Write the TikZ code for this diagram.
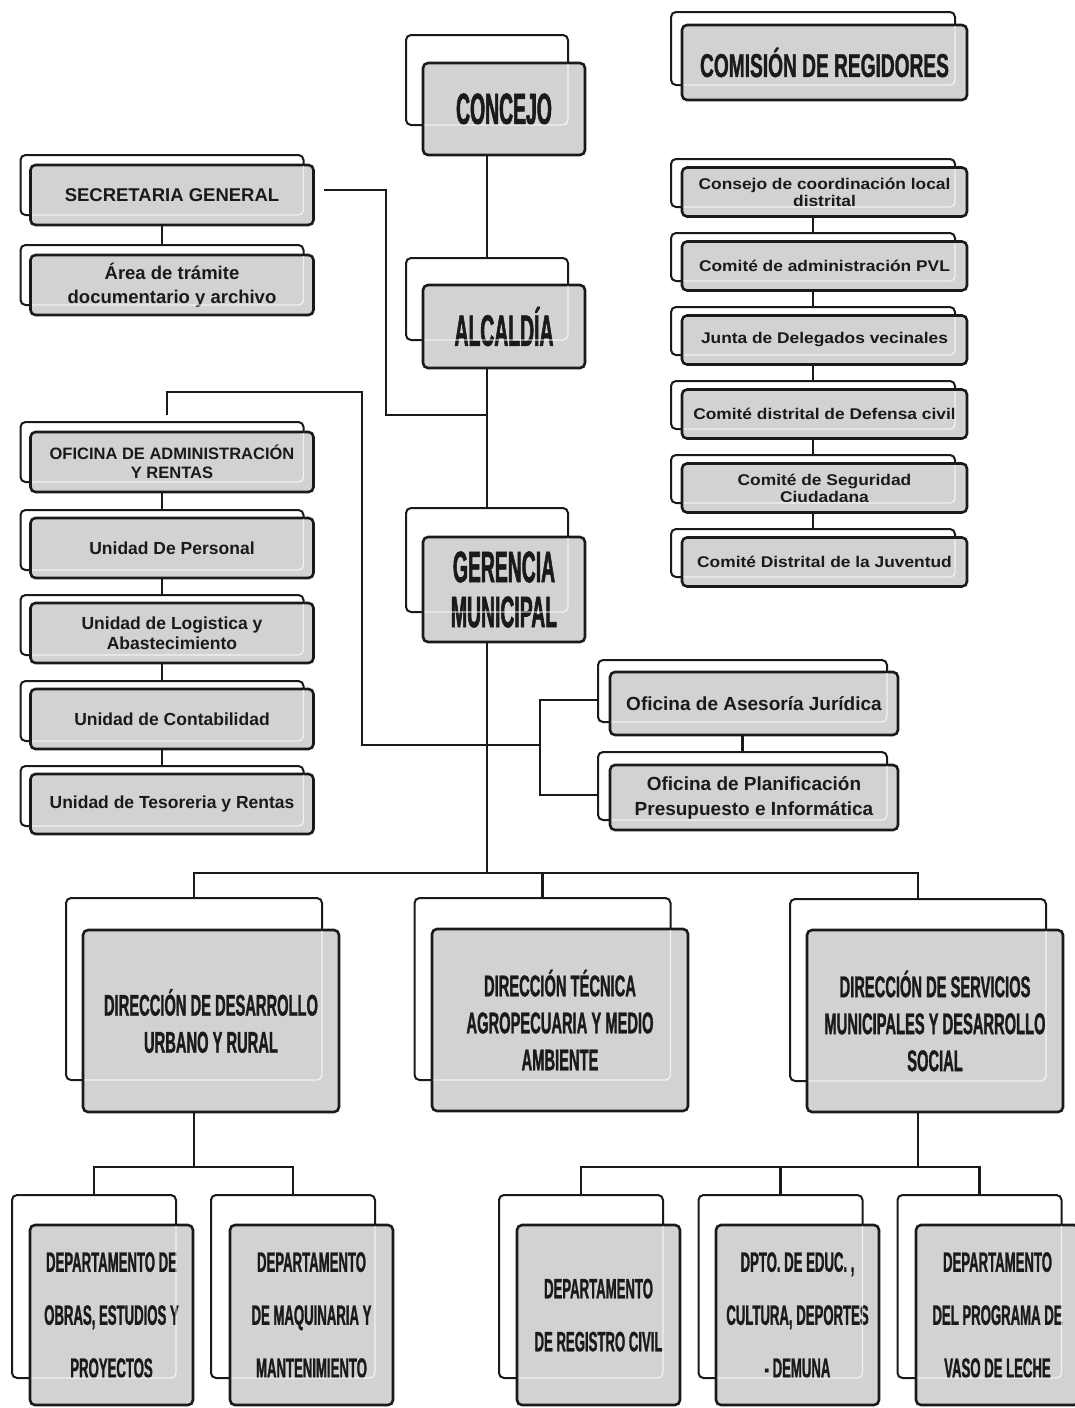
\documentclass[tikz,border=0pt]{standalone}
\usepackage{fontspec}
\setmainfont{Liberation Sans}
\newfontfamily\bigf{Liberation Sans Bold}[FakeStretch=0.44,FakeBold=1.2]
\newfontfamily\comf{Liberation Sans Bold}[FakeStretch=0.58,FakeBold=1]
\newfontfamily\dirf{Liberation Sans Bold}[FakeStretch=0.49,FakeBold=1]
\newfontfamily\depf{Liberation Sans Bold}[FakeStretch=0.47,FakeBold=1]
\newfontfamily\lf{Liberation Sans Bold}
\newfontfamily\rf{Liberation Sans Bold}[FakeStretch=1.12]
\definecolor{boxgray}{HTML}{D2D2D2}
\definecolor{ink}{HTML}{1A1A1A}
\begin{document}
\begin{tikzpicture}[x=1pt,y=-1pt,
  back/.style={rectangle,draw=ink,line width=2pt,fill=white,rounded corners=5pt,inner sep=0pt},
  front/.style={rectangle,draw=ink,line width=2.6pt,fill=boxgray,rounded corners=5pt,inner sep=0pt,align=center,text=ink},
  ghost/.style={draw=white,draw opacity=0.7,line width=1.4pt,rounded corners=5pt},
  conn/.style={draw=ink,line width=2.2pt},
  bigt/.style={font=\bigf\fontsize{44}{45}\selectfont},
  comt/.style={font=\comf\fontsize{33}{36}\selectfont},
  dirt/.style={font=\dirf\fontsize{30}{37}\selectfont},
  dept/.style={font=\depf\fontsize{28}{53}\selectfont},
  lback/.style={back,minimum width=283,minimum height=60},
  lfront/.style={front,minimum width=283,minimum height=60,font=\lf\fontsize{17.5}{24}\selectfont},
  rback/.style={back,minimum width=284,minimum height=48},
  rfront/.style={front,minimum width=285,minimum height=49,font=\rf\fontsize{15.5}{17}\selectfont},
  dback/.style={back,minimum width=256,minimum height=182},
  dfront/.style={front,minimum width=256,minimum height=182,dirt},
  bback/.style={back,minimum width=164,minimum height=183},
  bfront/.style={front,minimum width=163,minimum height=180,dept,text depth=0pt}]
\useasboundingbox (0,0) rectangle (1075,1408);

% ---------- back boxes ----------
\node[back,minimum width=162,minimum height=90] (concejo-b) at (487,80) {};
\node[back,minimum width=284,minimum height=73] (comision-b) at (813,48.5) {};
\node[lback] (secg-b) at (162,185) {};
\node[lback] (area-b) at (162,275) {};
\node[back,minimum width=162,minimum height=82] (alc-b) at (487,299) {};
\node[lback] (oadm-b) at (162,452) {};
\node[lback] (uper-b) at (162,540) {};
\node[lback] (ulog-b) at (162,625) {};
\node[lback] (ucon-b) at (162,711) {};
\node[lback] (utes-b) at (162,796) {};
\node[back,minimum width=162,minimum height=104] (ger-b) at (487,560) {};
\node[rback] (r1-b) at (813,183) {};
\node[rback] (r2-b) at (813,257) {};
\node[rback] (r3-b) at (813,331) {};
\node[rback] (r4-b) at (813,405) {};
\node[rback] (r5-b) at (813,479) {};
\node[rback] (r6-b) at (813,553) {};
\node[back,minimum width=289,minimum height=62] (jur-b) at (742.5,691) {};
\node[back,minimum width=289,minimum height=68] (plan-b) at (742.5,786) {};
\node[dback] (d1-b) at (194,989) {};
\node[dback] (d2-b) at (542.5,989) {};
\node[dback] (d3-b) at (918,990) {};
\node[bback] (b1-b) at (94,1286.5) {};
\node[bback] (b2-b) at (293,1286.5) {};
\node[bback] (b3-b) at (581,1286.5) {};
\node[bback] (b4-b) at (780.5,1286.5) {};
\node[bback] (b5-b) at (979.5,1286.5) {};

% ---------- front boxes ----------
\node[front,minimum width=162,minimum height=92,bigt] (concejo) at (504,109) {CONCEJO};
\node[front,minimum width=285,minimum height=75,comt] (comision) at (824.5,62.5) {COMISIÓN DE REGIDORES};
\node[lfront,font=\lf\fontsize{18.5}{24}\selectfont] (secg) at (172,195) {SECRETARIA GENERAL};
\node[lfront,font=\lf\fontsize{18.5}{24}\selectfont] (area) at (172,285) {Área de trámite\\documentario y archivo};
\node[front,minimum width=162,minimum height=83,bigt] (alc) at (504,326.5) {ALCALDÍA};
\node[lfront,font=\lf\fontsize{16.5}{19}\selectfont] (oadm) at (172,462) {OFICINA DE ADMINISTRACIÓN\\Y RENTAS};
\node[lfront] (uper) at (172,548) {Unidad De Personal};
\node[lfront,font=\lf\fontsize{17.5}{20}\selectfont] (ulog) at (172,633) {Unidad de Logistica y\\Abastecimiento};
\node[lfront] (ucon) at (172,719) {Unidad de Contabilidad};
\node[lfront] (utes) at (172,804) {Unidad de Tesoreria y Rentas};
\node[front,minimum width=162,minimum height=105,bigt] (ger) at (504,589.5) {GERENCIA\\MUNICIPAL};
\node[rfront] (r1) at (824.5,192) {Consejo de coordinación local\\distrital};
\node[rfront] (r2) at (824.5,266) {Comité de administración PVL};
\node[rfront] (r3) at (824.5,340) {Junta de Delegados vecinales};
\node[rfront] (r4) at (824.5,414) {Comité distrital de Defensa civil};
\node[rfront] (r5) at (824.5,488) {Comité de Seguridad\\Ciudadana};
\node[rfront] (r6) at (824.5,562) {Comité Distrital de la Juventud};
\node[front,minimum width=288,minimum height=63,font=\lf\fontsize{19}{25}\selectfont] (jur) at (754,703.5) {Oficina de Asesoría Jurídica};
\node[front,minimum width=288,minimum height=65,font=\lf\fontsize{19}{25}\selectfont] (plan) at (754,797.5) {Oficina de Planificación\\Presupuesto e Informática};
\node[dfront] (d1) at (211,1021) {DIRECCIÓN DE DESARROLLO\\URBANO Y RURAL};
\node[dfront] (d2) at (560,1020) {DIRECCIÓN TÉCNICA\\AGROPECUARIA Y MEDIO\\AMBIENTE};
\node[dfront] (d3) at (935,1021) {DIRECCIÓN DE SERVICIOS\\MUNICIPALES Y DESARROLLO\\SOCIAL};
\node[bfront] (b1) at (111.5,1315) {DEPARTAMENTO DE\\OBRAS, ESTUDIOS Y\\PROYECTOS};
\node[bfront] (b2) at (311.5,1315) {DEPARTAMENTO\\DE MAQUINARIA Y\\MANTENIMIENTO};
\node[bfront] (b3) at (598.5,1315) {DEPARTAMENTO\\DE REGISTRO CIVIL};
\node[bfront] (b4) at (797.5,1315) {DPTO. DE EDUC. ,\\CULTURA, DEPORTES\\- DEMUNA};
\node[bfront] (b5) at (997.5,1315) {DEPARTAMENTO\\DEL PROGRAMA DE\\VASO DE LECHE};

% ---------- glass highlights (back box seen through front box) ----------
\foreach \n in {concejo,comision,secg,area,alc,oadm,uper,ulog,ucon,utes,ger,r1,r2,r3,r4,r5,r6,jur,plan,d1,d2,d3,b1,b2,b3,b4,b5}{
  \begin{scope}
    \clip ([shift={(3,-3)}]\n.south west) rectangle ([shift={(-3,3)}]\n.north east);
    \draw[ghost] ([shift={(1,-1)}]\n-b.south west) rectangle ([shift={(-1,1)}]\n-b.north east);
  \end{scope}
}

% ---------- connectors ----------
\coordinate (j1) at (487,415);
\coordinate (s1) at (386,415);
\coordinate (busc) at (487,873);
\coordinate (a0) at (167,415);
\coordinate (a1) at (362,392);
\coordinate (k) at (540,745);
\coordinate (l1) at (194,1167);
\coordinate (l3) at (918,1167);

\draw[conn] (concejo-b |- concejo.south) -- (alc-b.north);
\draw[conn] (alc-b |- alc.south) -- (ger-b.north);
\draw[conn] (ger-b |- ger.south) -- (busc);
\draw[conn] ([xshift=9pt,yshift=5pt]secg.east) -| (s1) -- (j1);
\draw[conn] (a0) |- (a1) |- (k);
\draw[conn] ([yshift=-9pt]jur-b.west) -| (k) |- ([yshift=-9pt]plan-b.west);
\draw[conn] (jur-b |- jur.south) -- (plan-b.north);

\draw[conn] (secg-b |- secg.south) -- (area-b.north);
\draw[conn] (oadm-b |- oadm.south) -- (uper-b.north);
\draw[conn] (uper-b |- uper.south) -- (ulog-b.north);
\draw[conn] (ulog-b |- ulog.south) -- (ucon-b.north);
\draw[conn] (ucon-b |- ucon.south) -- (utes-b.north);

\draw[conn] (r1-b |- r1.south) -- (r2-b.north);
\draw[conn] (r2-b |- r2.south) -- (r3-b.north);
\draw[conn] (r3-b |- r3.south) -- (r4-b.north);
\draw[conn] (r4-b |- r4.south) -- (r5-b.north);
\draw[conn] (r5-b |- r5.south) -- (r6-b.north);

\draw[conn] (d1-b.north) |- (busc) -| (d3-b.north);
\draw[conn] (d2-b.north) -- (d2-b.north |- busc);

\draw[conn] (d1-b |- d1.south) -- (l1);
\draw[conn] (b1-b.north) |- (l1) -| (b2-b.north);
\draw[conn] (d3-b |- d3.south) -- (l3);
\draw[conn] (b3-b.north) |- (l3) -| (b5-b.north);
\draw[conn] (b4-b.north) -- (b4-b.north |- l3);
\end{tikzpicture}
\end{document}
